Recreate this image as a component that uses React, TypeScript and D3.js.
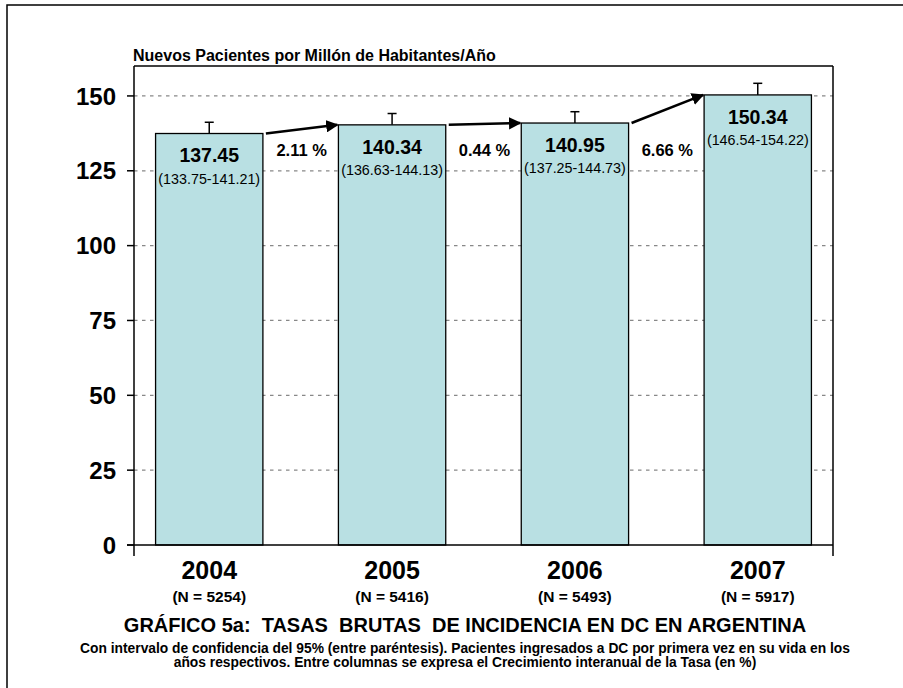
import React from 'react';
import * as d3 from 'd3';

const years = ['2004', '2005', '2006', '2007'];
const counts = ['(N = 5254)', '(N = 5416)', '(N = 5493)', '(N = 5917)'];
const rates = [137.45, 140.34, 140.95, 150.34];
const ciLow = [133.75, 136.63, 137.25, 146.54];
const ciHigh = [141.21, 144.13, 144.73, 154.22];
const growth = ['2.11 %', '0.44 %', '6.66 %'];
const yTicks = [0, 25, 50, 75, 100, 125, 150];

const W = 903;
const H = 688;
const FONT = '"Liberation Sans", Arial, Helvetica, sans-serif';

export default function App() {
  const left = 134, right = 833, top = 66, bottom = 545;
  const y = d3.scaleLinear().domain([0, 160]).range([bottom, top]);
  const x = d3.scaleBand<string>().domain(years).range([left, right]).paddingInner(0.413).paddingOuter(0.118);
  const bw = x.bandwidth();
  const fill = '#b9e0e3';

  return (
    <svg width={W} height={H} style={{ position: 'absolute', left: 0, top: 0, background: '#fff' }} fontFamily={FONT}>
      <defs>
        <marker id="arr" viewBox="0 0 10 10" refX="9" refY="5" markerWidth="5" markerHeight="5" orient="auto" markerUnits="strokeWidth">
          <path d="M0,0 L10,5 L0,10 z" fill="#000" />
        </marker>
      </defs>
      <rect x={7} y={5} width={1000} height={1000} fill="none" stroke="#000" strokeWidth={1.5} />
      <text x={133} y={61} fontSize={16} fontWeight="bold">Nuevos Pacientes por Millón de Habitantes/Año</text>

      {/* gridlines */}
      {yTicks.filter(t => t > 0).map(t => (
        <line key={t} x1={left} x2={right} y1={y(t)} y2={y(t)} stroke="#888" strokeWidth={1.3} strokeDasharray="3.5,4.5" />
      ))}

      {/* bars */}
      {years.map((yr, i) => (
        <g key={yr}>
          <line x1={x(yr)! + bw / 2} x2={x(yr)! + bw / 2} y1={y(rates[i])} y2={y(ciHigh[i])} stroke="#000" strokeWidth={1.5} />
          <line x1={x(yr)! + bw / 2 - 4.5} x2={x(yr)! + bw / 2 + 4.5} y1={y(ciHigh[i])} y2={y(ciHigh[i])} stroke="#000" strokeWidth={1.5} />
          <rect x={x(yr)} y={y(rates[i])} width={bw} height={y(0) - y(rates[i])} fill={fill} stroke="#000" strokeWidth={1.3} />
          <text x={x(yr)! + bw / 2} y={y(rates[i]) + 22} dy="0.35em" textAnchor="middle" fontSize={19.5} fontWeight="bold">{rates[i].toFixed(2)}</text>
          <text x={x(yr)! + bw / 2} y={y(rates[i]) + 45} dy="0.35em" textAnchor="middle" fontSize={14.3}>({ciLow[i].toFixed(2)}-{ciHigh[i].toFixed(2)})</text>
          <text x={x(yr)! + bw / 2} y={570} dy="0.35em" textAnchor="middle" fontSize={25} fontWeight="bold">{yr}</text>
          <text x={x(yr)! + bw / 2} y={597} dy="0.35em" textAnchor="middle" fontSize={15.5} fontWeight="bold">{counts[i]}</text>
        </g>
      ))}

      {/* arrows and growth labels */}
      {growth.map((g, i) => {
        const x1 = x(years[i])! + bw + 3;
        const x2 = x(years[i + 1])! - 1;
        const y1 = y(rates[i]);
        const y2 = y(rates[i + 1]);
        return (
          <g key={g}>
            <line x1={x1} y1={y1} x2={x2} y2={y2} stroke="#000" strokeWidth={2.5} markerEnd="url(#arr)" />
            <text x={(x1 + x2) / 2} y={y(132)} dy="0.35em" textAnchor="middle" fontSize={16.5} fontWeight="bold">{g}</text>
          </g>
        );
      })}

      {/* plot frame */}
      <line x1={left} x2={right} y1={top} y2={top} stroke="#000" strokeWidth={1.5} />
      <line x1={right} x2={right} y1={top} y2={bottom + 11} stroke="#000" strokeWidth={1.5} />
      <line x1={left} x2={left} y1={top} y2={bottom + 11} stroke="#000" strokeWidth={1.5} />
      <line x1={left - 7} x2={right} y1={bottom} y2={bottom} stroke="#000" strokeWidth={1.5} />

      {/* y axis ticks */}
      {yTicks.map(t => (
        <g key={t}>
          <line x1={left - 7} x2={left} y1={y(t)} y2={y(t)} stroke="#000" strokeWidth={1.5} />
          <text x={116} y={y(t)} dy="0.36em" textAnchor="end" fontSize={24} fontWeight="bold">{t}</text>
        </g>
      ))}

      {/* footer */}
      <text x={465} y={625} dy="0.35em" textAnchor="middle" fontSize={20} fontWeight="bold" style={{ whiteSpace: 'pre' }}>GRÁFICO 5a:  TASAS  BRUTAS  DE INCIDENCIA EN DC EN ARGENTINA</text>
      <text x={465} y={648} dy="0.35em" textAnchor="middle" fontSize={13.8} fontWeight="bold">Con intervalo de confidencia del 95% (entre paréntesis). Pacientes ingresados a DC por primera vez en su vida en los</text>
      <text x={465} y={662} dy="0.35em" textAnchor="middle" fontSize={13.8} fontWeight="bold">años respectivos. Entre columnas se expresa el Crecimiento interanual de la Tasa (en %)</text>
    </svg>
  );
}
